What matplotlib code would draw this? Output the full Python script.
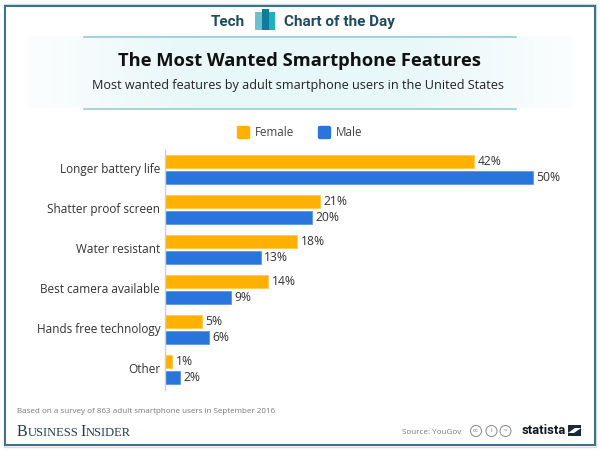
import matplotlib
matplotlib.use("Agg")
import matplotlib.pyplot as plt
from matplotlib.patches import Rectangle, Circle, FancyBboxPatch, Polygon
from matplotlib.transforms import ScaledTranslation
import numpy as np

categories = ["Longer battery life", "Shatter proof screen", "Water resistant",
              "Best camera available", "Hands free technology", "Other"]
female = [42, 21, 18, 14, 5, 1]
male = [50, 20, 13, 9, 6, 2]
series_names = ["Female", "Male"]

FEMALE_C = "#FFB000"
MALE_C = "#2A75DC"
W, H = 600, 450
plt.rcParams['font.family'] = ['Open Sans', 'DejaVu Sans']

fig = plt.figure(figsize=(6, 4.5), dpi=100)
bg = fig.add_axes([0, 0, 1, 1])
bg.set_xlim(0, W); bg.set_ylim(H, 0); bg.axis("off")

# frame
bg.add_patch(Rectangle((3.5, 3.5), 592.5, 443.5, fill=False, ec="#D5DEE3", lw=1))
bg.add_patch(Rectangle((5, 5.5), 590, 439.5, fill=False, ec="#3F7187", lw=1.5))

# gradient header band
grad = np.zeros((1, W, 4))
xs = np.arange(W)
grad[..., 0] = 0.91; grad[..., 1] = 0.97; grad[..., 2] = 0.975
grad[0, :, 3] = np.clip(0.12 + np.minimum((xs - 25) / 190, (575 - xs) / 190), 0, 1) * (xs > 25) * (xs < 575)
bg.imshow(grad, extent=[0, W, 108.5, 36.5], aspect="auto", zorder=0)
bg.set_xlim(0, W); bg.set_ylim(H, 0)
for y in (36.5, 108.5):
    bg.plot([84, 516], [y, y], color="#8CC8D6", lw=1.1, zorder=1)

# logo and heading
HEAD = "#1F4A60"
bg.text(245, 22, "Tech", family="Roboto", weight="bold", fontsize=11,
        color=HEAD, ha="right", va="center")
bg.text(284, 22, "Chart of the Day", family="Roboto", weight="bold",
        fontsize=11, color=HEAD, ha="left", va="center")
bg.add_patch(Rectangle((255, 12), 7, 18, color="#6FC0C8", lw=0))
bg.add_patch(Rectangle((261.5, 9), 7, 21, color="#0F7C9C", lw=0))
bg.add_patch(Rectangle((268.5, 12), 6.5, 18, color="#1FB0BE", lw=0))

bg.text(300, 61, "The Most Wanted Smartphone Features", fontsize=13.2, weight="bold",
        color="#111111", ha="center", va="center")
bg.text(298.5, 85, "Most wanted features by adult smartphone users in the United States",
        fontsize=9.1, color="#222222", ha="center", va="center")

# legend
for x, c, name in zip((237, 318), (FEMALE_C, MALE_C), series_names):
    bg.add_patch(FancyBboxPatch((x + 0.5, 126.5), 12, 12,
                                boxstyle="round,pad=0,rounding_size=1.5", fc=c, ec=c, lw=1))
    bg.text(x + 18, 133, name, fontsize=8.4, color="#444444", ha="left", va="center")

# chart
left, right, top, bottom = 165, 574, 149.5, 389.5
ax = fig.add_axes([left / W, 1 - bottom / H, (right - left) / W, (bottom - top) / H])
ax.patch.set_alpha(0)
y = np.arange(len(categories))
bar_h = 13 / 40
off = 8 / 40
ax.barh(y - off, female, height=bar_h, color=FEMALE_C, edgecolor="#FFC640", linewidth=0.5)
ax.barh(y + off, male, height=bar_h, color=MALE_C, edgecolor="#4F8FE6", linewidth=0.5)
ax.set_xlim(0, (right - left) / 7.36)
ax.set_ylim(len(categories) - 0.5, -0.5)
ax.set_yticks(y, categories, fontsize=8.45, color="#333333")
ax.set_xticks([])
ax.tick_params(axis="y", length=0, pad=3.5)
shift = ScaledTranslation(0, 1.5 / 100, fig.dpi_scale_trans)
for lab in ax.get_yticklabels():
    lab.set_transform(lab.get_transform() + shift)
for s in ("top", "right", "bottom"):
    ax.spines[s].set_visible(False)
ax.spines["left"].set_color("#D0D0D0")
ax.spines["left"].set_linewidth(1)
for i, (f, m) in enumerate(zip(female, male)):
    ax.annotate(f"{f}%", (f, i - off), xytext=(2.5, 0), textcoords="offset points",
                va="center", ha="left", fontsize=8.7, color="#333333")
    ax.annotate(f"{m}%", (m, i + off), xytext=(2.5, 0), textcoords="offset points",
                va="center", ha="left", fontsize=8.7, color="#333333")

# footer
bg.text(17, 411.7, "Based on a survey of 863 adult smartphone users in September 2016",
        fontsize=5.8, color="#777777", ha="left", va="center")
serif = dict(family="Liberation Serif", color="#1F3F50", va="baseline", ha="left")
x = 17
for txt, fs, adv in (("B", 11.5, 10.8), ("USINESS", 9, 52.5), ("I", 11.5, 5.6), ("NSIDER", 9, 0)):
    bg.text(x, 436.5, txt, fontsize=fs, **serif)
    x += adv
bg.text(402, 432, "Source: YouGov", fontsize=5.8, color="#777777", ha="left", va="center")
for cx, t in zip((476, 491.5, 505.5), ("cc", "i", "=")):
    bg.add_patch(Circle((cx, 431), 5.5, fill=False, ec="#888888", lw=0.7))
    bg.text(cx, 431, t, fontsize=4.5, color="#777777", ha="center", va="center")
bg.text(522, 431, "statista", family="Roboto", weight="bold", fontsize=9.4, color="#111A22",
        ha="left", va="center")
bg.add_patch(Rectangle((568, 425), 13, 11, color="#1B2A36", lw=0))
bg.add_patch(Polygon([[568, 433], [575, 428], [581, 428], [574, 433]], color="white", lw=0))

fig.savefig("out.png", dpi=100)
